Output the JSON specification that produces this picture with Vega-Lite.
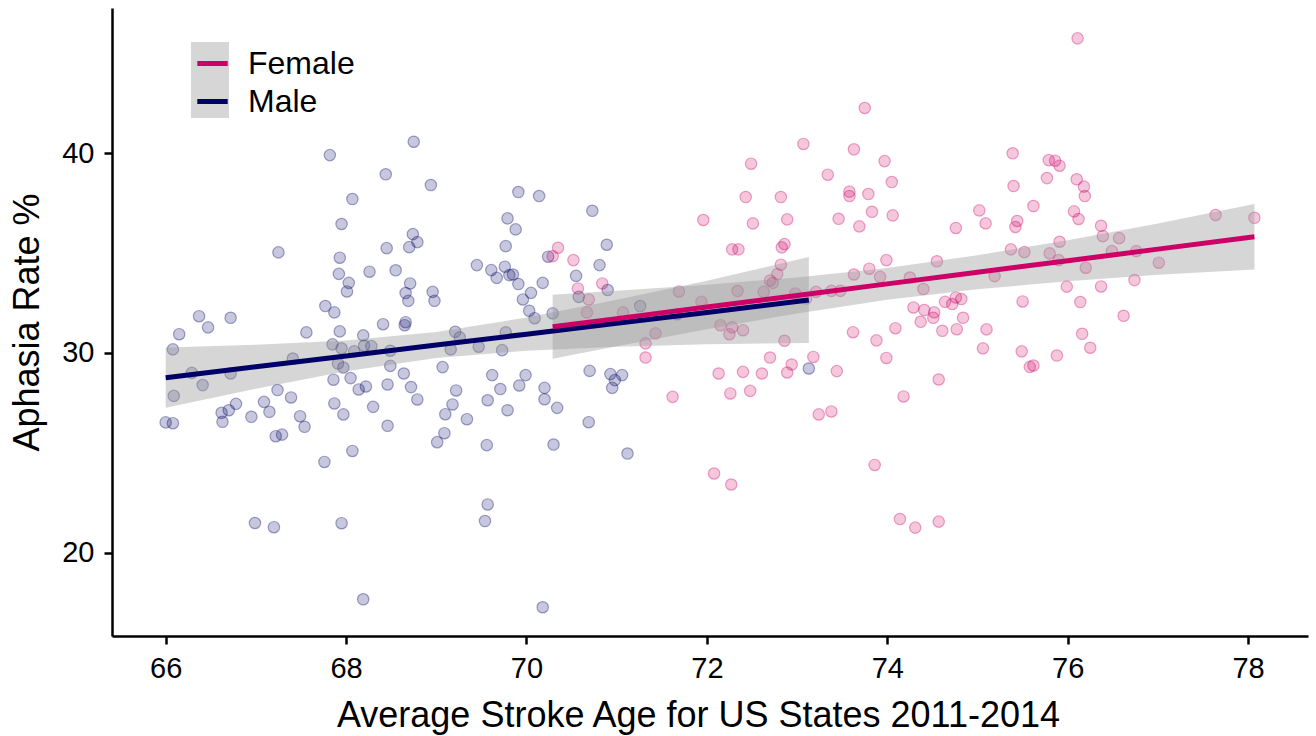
{
  "$schema": "https://vega.github.io/schema/vega-lite/v6.json",
  "autosize": {"type": "none"},
  "width": 1196,
  "height": 628,
  "padding": {"left": 112, "top": 8, "right": 8, "bottom": 100},
  "background": "white",
  "config": {
    "view": {"stroke": null},
    "font": "Liberation Sans",
    "axis": {
      "grid": false,
      "domainColor": "black",
      "domainWidth": 2.5,
      "tickColor": "black",
      "tickWidth": 2.5,
      "tickSize": 8,
      "labelColor": "black",
      "labelFontSize": 29,
      "labelFont": "Liberation Sans",
      "titleFont": "Liberation Sans",
      "titleFontSize": 36,
      "titleFontWeight": "normal",
      "titleColor": "black"
    }
  },
  "datasets": {
    "pts": [
      {"sex":"Male","age":68.75,"rate":40.58},{"sex":"Male","age":67.82,"rate":39.91},{"sex":"Male","age":68.44,"rate":38.95},{"sex":"Male","age":68.94,"rate":38.41},{"sex":"Male","age":68.07,"rate":37.71},{"sex":"Male","age":67.95,"rate":36.46},{"sex":"Male","age":67.25,"rate":35.04},{"sex":"Male","age":68.74,"rate":35.95},{"sex":"Male","age":68.79,"rate":35.55},{"sex":"Male","age":68.70,"rate":35.30},
      {"sex":"Male","age":68.45,"rate":35.25},{"sex":"Male","age":67.93,"rate":34.77},{"sex":"Male","age":67.92,"rate":33.96},{"sex":"Male","age":68.26,"rate":34.07},{"sex":"Male","age":68.55,"rate":34.14},{"sex":"Male","age":68.03,"rate":33.51},{"sex":"Male","age":68.01,"rate":33.08},{"sex":"Male","age":68.71,"rate":33.48},{"sex":"Male","age":68.66,"rate":33.00},{"sex":"Male","age":68.69,"rate":32.61},
      {"sex":"Male","age":68.96,"rate":33.06},{"sex":"Male","age":68.98,"rate":32.61},{"sex":"Male","age":67.77,"rate":32.35},{"sex":"Male","age":67.87,"rate":32.03},{"sex":"Male","age":66.37,"rate":31.84},{"sex":"Male","age":66.72,"rate":31.76},{"sex":"Male","age":66.15,"rate":30.94},{"sex":"Male","age":66.47,"rate":31.28},{"sex":"Male","age":67.56,"rate":31.03},{"sex":"Male","age":67.93,"rate":31.08},
      {"sex":"Male","age":68.41,"rate":31.44},{"sex":"Male","age":68.65,"rate":31.39},{"sex":"Male","age":68.66,"rate":31.54},{"sex":"Male","age":68.19,"rate":30.88},{"sex":"Male","age":67.85,"rate":30.43},{"sex":"Male","age":67.95,"rate":30.23},{"sex":"Male","age":68.09,"rate":30.08},{"sex":"Male","age":68.20,"rate":30.36},{"sex":"Male","age":68.28,"rate":30.34},{"sex":"Male","age":68.49,"rate":30.11},
      {"sex":"Male","age":69.21,"rate":31.06},{"sex":"Male","age":69.26,"rate":30.78},{"sex":"Male","age":69.16,"rate":30.18},{"sex":"Male","age":66.08,"rate":30.18},{"sex":"Male","age":67.41,"rate":29.72},{"sex":"Male","age":67.91,"rate":29.47},{"sex":"Male","age":67.97,"rate":29.27},{"sex":"Male","age":68.49,"rate":29.35},{"sex":"Male","age":69.07,"rate":29.29},{"sex":"Male","age":68.64,"rate":28.97},
      {"sex":"Male","age":66.29,"rate":29.00},{"sex":"Male","age":66.72,"rate":28.97},{"sex":"Male","age":67.86,"rate":28.66},{"sex":"Male","age":68.05,"rate":28.74},{"sex":"Male","age":66.41,"rate":28.39},{"sex":"Male","age":66.09,"rate":27.85},{"sex":"Male","age":66.00,"rate":26.52},{"sex":"Male","age":66.08,"rate":26.48},{"sex":"Male","age":66.62,"rate":27.00},{"sex":"Male","age":66.70,"rate":27.13},
      {"sex":"Male","age":66.78,"rate":27.45},{"sex":"Male","age":66.63,"rate":26.55},{"sex":"Male","age":66.95,"rate":26.80},{"sex":"Male","age":67.09,"rate":27.55},{"sex":"Male","age":67.15,"rate":27.05},{"sex":"Male","age":67.24,"rate":28.14},{"sex":"Male","age":67.39,"rate":27.77},{"sex":"Male","age":67.49,"rate":26.83},{"sex":"Male","age":67.54,"rate":26.30},{"sex":"Male","age":67.22,"rate":25.83},
      {"sex":"Male","age":67.29,"rate":25.91},{"sex":"Male","age":67.87,"rate":27.47},{"sex":"Male","age":67.97,"rate":26.92},{"sex":"Male","age":68.14,"rate":28.17},{"sex":"Male","age":68.22,"rate":28.32},{"sex":"Male","age":68.30,"rate":27.30},{"sex":"Male","age":68.46,"rate":28.42},{"sex":"Male","age":68.46,"rate":26.35},{"sex":"Male","age":68.72,"rate":28.29},{"sex":"Male","age":68.79,"rate":27.67},
      {"sex":"Male","age":69.22,"rate":28.12},{"sex":"Male","age":69.18,"rate":27.42},{"sex":"Male","age":69.10,"rate":26.93},{"sex":"Male","age":69.34,"rate":26.68},{"sex":"Male","age":69.09,"rate":25.98},{"sex":"Male","age":69.01,"rate":25.53},{"sex":"Male","age":68.07,"rate":25.09},{"sex":"Male","age":67.76,"rate":24.54},{"sex":"Male","age":66.99,"rate":21.48},{"sex":"Male","age":67.20,"rate":21.27},
      {"sex":"Male","age":67.95,"rate":21.47},{"sex":"Male","age":68.19,"rate":17.66},{"sex":"Male","age":69.91,"rate":38.06},{"sex":"Male","age":70.14,"rate":37.86},{"sex":"Male","age":70.73,"rate":37.12},{"sex":"Male","age":69.79,"rate":36.74},{"sex":"Male","age":69.88,"rate":36.19},{"sex":"Male","age":69.77,"rate":35.35},{"sex":"Male","age":70.89,"rate":35.42},{"sex":"Male","age":69.45,"rate":34.40},
      {"sex":"Male","age":69.61,"rate":34.15},{"sex":"Male","age":69.67,"rate":33.76},{"sex":"Male","age":69.76,"rate":34.32},{"sex":"Male","age":69.81,"rate":33.90},{"sex":"Male","age":69.85,"rate":33.93},{"sex":"Male","age":69.91,"rate":33.45},{"sex":"Male","age":70.18,"rate":33.51},{"sex":"Male","age":70.24,"rate":34.82},{"sex":"Male","age":70.81,"rate":34.40},{"sex":"Male","age":70.55,"rate":33.86},
      {"sex":"Male","age":70.90,"rate":33.15},{"sex":"Male","age":70.05,"rate":33.01},{"sex":"Male","age":69.96,"rate":32.68},{"sex":"Male","age":70.03,"rate":32.11},{"sex":"Male","age":70.09,"rate":31.74},{"sex":"Male","age":70.29,"rate":31.98},{"sex":"Male","age":70.58,"rate":32.81},{"sex":"Male","age":71.26,"rate":32.35},{"sex":"Male","age":71.67,"rate":31.94},{"sex":"Male","age":73.13,"rate":29.22},
      {"sex":"Male","age":69.77,"rate":31.03},{"sex":"Male","age":69.47,"rate":30.31},{"sex":"Male","age":69.73,"rate":30.14},{"sex":"Male","age":69.62,"rate":28.89},{"sex":"Male","age":69.99,"rate":28.89},{"sex":"Male","age":70.70,"rate":29.10},{"sex":"Male","age":70.93,"rate":28.94},{"sex":"Male","age":71.06,"rate":28.89},{"sex":"Male","age":70.98,"rate":28.64},{"sex":"Male","age":69.92,"rate":28.37},
      {"sex":"Male","age":69.71,"rate":28.19},{"sex":"Male","age":69.57,"rate":27.63},{"sex":"Male","age":69.79,"rate":27.13},{"sex":"Male","age":70.20,"rate":28.25},{"sex":"Male","age":70.20,"rate":27.68},{"sex":"Male","age":70.34,"rate":27.25},{"sex":"Male","age":70.95,"rate":28.25},{"sex":"Male","age":70.69,"rate":26.53},{"sex":"Male","age":69.56,"rate":25.38},{"sex":"Male","age":70.30,"rate":25.41},
      {"sex":"Male","age":71.12,"rate":24.96},{"sex":"Male","age":69.57,"rate":22.41},{"sex":"Male","age":69.54,"rate":21.58},{"sex":"Male","age":70.18,"rate":17.26},
      {"sex":"Female","age":73.07,"rate":40.47},{"sex":"Female","age":72.49,"rate":39.48},{"sex":"Female","age":72.43,"rate":37.81},{"sex":"Female","age":72.82,"rate":37.81},{"sex":"Female","age":71.96,"rate":36.66},{"sex":"Female","age":72.51,"rate":36.49},{"sex":"Female","age":72.89,"rate":36.69},{"sex":"Female","age":70.35,"rate":35.27},{"sex":"Female","age":70.29,"rate":34.85},{"sex":"Female","age":70.52,"rate":34.65},
      {"sex":"Female","age":72.28,"rate":35.19},{"sex":"Female","age":72.35,"rate":35.19},{"sex":"Female","age":72.83,"rate":35.29},{"sex":"Female","age":72.86,"rate":35.45},{"sex":"Female","age":72.82,"rate":34.42},{"sex":"Female","age":72.78,"rate":33.95},{"sex":"Female","age":72.70,"rate":33.63},{"sex":"Female","age":72.73,"rate":33.51},{"sex":"Female","age":70.57,"rate":33.23},{"sex":"Female","age":70.69,"rate":32.68},
      {"sex":"Female","age":70.84,"rate":33.48},{"sex":"Female","age":70.67,"rate":32.03},{"sex":"Female","age":71.07,"rate":32.03},{"sex":"Female","age":71.69,"rate":33.08},{"sex":"Female","age":71.94,"rate":32.56},{"sex":"Female","age":72.34,"rate":33.10},{"sex":"Female","age":72.63,"rate":33.06},{"sex":"Female","age":72.98,"rate":32.98},{"sex":"Female","age":73.21,"rate":33.06},{"sex":"Female","age":71.43,"rate":30.98},
      {"sex":"Female","age":71.32,"rate":30.48},{"sex":"Female","age":71.32,"rate":29.77},{"sex":"Female","age":72.15,"rate":31.39},{"sex":"Female","age":72.25,"rate":30.94},{"sex":"Female","age":72.28,"rate":31.28},{"sex":"Female","age":72.40,"rate":31.14},{"sex":"Female","age":72.86,"rate":30.61},{"sex":"Female","age":72.70,"rate":29.77},{"sex":"Female","age":72.94,"rate":29.42},{"sex":"Female","age":72.89,"rate":29.02},
      {"sex":"Female","age":73.18,"rate":29.80},{"sex":"Female","age":72.13,"rate":28.97},{"sex":"Female","age":72.40,"rate":29.05},{"sex":"Female","age":72.61,"rate":28.97},{"sex":"Female","age":71.62,"rate":27.80},{"sex":"Female","age":72.26,"rate":27.97},{"sex":"Female","age":72.48,"rate":28.10},{"sex":"Female","age":73.24,"rate":26.92},{"sex":"Female","age":72.08,"rate":23.96},{"sex":"Female","age":72.27,"rate":23.41},
      {"sex":"Female","age":76.11,"rate":45.76},{"sex":"Female","age":73.75,"rate":42.27},{"sex":"Female","age":73.63,"rate":40.20},{"sex":"Female","age":73.97,"rate":39.61},{"sex":"Female","age":73.34,"rate":38.93},{"sex":"Female","age":74.05,"rate":38.56},{"sex":"Female","age":73.58,"rate":38.08},{"sex":"Female","age":73.58,"rate":37.86},{"sex":"Female","age":73.79,"rate":37.96},{"sex":"Female","age":73.83,"rate":37.07},
      {"sex":"Female","age":74.06,"rate":36.89},{"sex":"Female","age":73.46,"rate":36.72},{"sex":"Female","age":73.69,"rate":36.34},{"sex":"Female","age":75.39,"rate":40.00},{"sex":"Female","age":75.79,"rate":39.66},{"sex":"Female","age":75.86,"rate":39.63},{"sex":"Female","age":75.91,"rate":39.38},{"sex":"Female","age":75.40,"rate":38.36},{"sex":"Female","age":75.77,"rate":38.76},{"sex":"Female","age":76.10,"rate":38.70},
      {"sex":"Female","age":76.18,"rate":38.33},{"sex":"Female","age":76.19,"rate":37.86},{"sex":"Female","age":75.62,"rate":37.36},{"sex":"Female","age":75.02,"rate":37.14},{"sex":"Female","age":75.09,"rate":36.49},{"sex":"Female","age":75.44,"rate":36.61},{"sex":"Female","age":75.42,"rate":36.31},{"sex":"Female","age":76.07,"rate":37.09},{"sex":"Female","age":76.12,"rate":36.71},{"sex":"Female","age":74.76,"rate":36.26},
      {"sex":"Female","age":76.37,"rate":36.37},{"sex":"Female","age":76.39,"rate":35.85},{"sex":"Female","age":76.57,"rate":35.75},{"sex":"Female","age":76.49,"rate":35.10},{"sex":"Female","age":75.91,"rate":35.57},{"sex":"Female","age":75.37,"rate":35.19},{"sex":"Female","age":75.52,"rate":35.05},{"sex":"Female","age":75.80,"rate":34.99},{"sex":"Female","age":75.90,"rate":34.65},{"sex":"Female","age":76.20,"rate":34.27},
      {"sex":"Female","age":73.99,"rate":34.65},{"sex":"Female","age":74.55,"rate":34.59},{"sex":"Female","age":73.80,"rate":34.22},{"sex":"Female","age":73.63,"rate":33.93},{"sex":"Female","age":73.92,"rate":33.81},{"sex":"Female","age":74.25,"rate":33.78},{"sex":"Female","age":75.19,"rate":33.85},{"sex":"Female","age":74.40,"rate":33.20},{"sex":"Female","age":75.99,"rate":33.32},{"sex":"Female","age":76.37,"rate":33.33},
      {"sex":"Female","age":73.38,"rate":33.11},{"sex":"Female","age":73.48,"rate":33.11},{"sex":"Female","age":73.10,"rate":32.73},{"sex":"Female","age":75.50,"rate":32.58},{"sex":"Female","age":76.14,"rate":32.55},{"sex":"Female","age":76.62,"rate":31.86},{"sex":"Female","age":74.29,"rate":32.28},{"sex":"Female","age":74.41,"rate":32.15},{"sex":"Female","age":74.52,"rate":32.03},{"sex":"Female","age":74.51,"rate":31.76},
      {"sex":"Female","age":74.37,"rate":31.56},{"sex":"Female","age":74.64,"rate":32.56},{"sex":"Female","age":74.72,"rate":32.45},{"sex":"Female","age":74.76,"rate":32.78},{"sex":"Female","age":74.82,"rate":32.70},{"sex":"Female","age":74.84,"rate":31.76},{"sex":"Female","age":74.61,"rate":31.11},{"sex":"Female","age":74.77,"rate":31.19},{"sex":"Female","age":75.10,"rate":31.18},{"sex":"Female","age":75.06,"rate":30.23},
      {"sex":"Female","age":75.49,"rate":30.08},{"sex":"Female","age":75.58,"rate":29.30},{"sex":"Female","age":75.62,"rate":29.37},{"sex":"Female","age":75.88,"rate":29.87},{"sex":"Female","age":76.16,"rate":30.96},{"sex":"Female","age":76.25,"rate":30.26},{"sex":"Female","age":73.62,"rate":31.04},{"sex":"Female","age":73.88,"rate":30.63},{"sex":"Female","age":74.09,"rate":31.24},{"sex":"Female","age":73.99,"rate":29.75},
      {"sex":"Female","age":73.44,"rate":29.09},{"sex":"Female","age":74.57,"rate":28.67},{"sex":"Female","age":74.18,"rate":27.82},{"sex":"Female","age":73.38,"rate":27.07},{"sex":"Female","age":73.86,"rate":24.39},{"sex":"Female","age":74.14,"rate":21.68},{"sex":"Female","age":74.31,"rate":21.25},{"sex":"Female","age":74.57,"rate":21.55},{"sex":"Female","age":77.64,"rate":36.91},{"sex":"Female","age":78.07,"rate":36.77},
      {"sex":"Female","age":76.76,"rate":35.10},{"sex":"Female","age":77.01,"rate":34.52},{"sex":"Female","age":76.74,"rate":33.65}
    ],
    "fit": [
      {"sex":"Male","band":"M","age":66.0,"fit":28.76,"lo":27.25,"hi":30.27},
      {"sex":"Male","band":"M","age":67.0,"fit":29.31,"lo":28.21,"hi":30.41},
      {"sex":"Male","band":"M","age":68.0,"fit":29.85,"lo":29.08,"hi":30.62},
      {"sex":"Male","band":"M","age":69.0,"fit":30.40,"lo":29.75,"hi":31.05},
      {"sex":"Male","band":"M","age":70.0,"fit":30.94,"lo":30.11,"hi":31.77},
      {"sex":"Male","band":"M","age":71.0,"fit":31.49,"lo":30.31,"hi":32.67},
      {"sex":"Male","band":"M","age":72.0,"fit":32.03,"lo":30.44,"hi":33.62},
      {"sex":"Male","band":"M","age":73.13,"fit":32.65,"lo":30.50,"hi":34.80},
      {"sex":"Female","band":"F","age":70.29,"fit":31.31,"lo":29.71,"hi":32.91},
      {"sex":"Female","band":"F","age":71.0,"fit":31.72,"lo":30.33,"hi":33.11},
      {"sex":"Female","band":"F","age":72.0,"fit":32.30,"lo":31.19,"hi":33.42},
      {"sex":"Female","band":"F","age":73.0,"fit":32.88,"lo":31.98,"hi":33.78},
      {"sex":"Female","band":"F","age":74.0,"fit":33.46,"lo":32.66,"hi":34.26},
      {"sex":"Female","band":"F","age":75.0,"fit":34.04,"lo":33.19,"hi":34.89},
      {"sex":"Female","band":"F","age":76.0,"fit":34.62,"lo":33.59,"hi":35.65},
      {"sex":"Female","band":"F","age":77.0,"fit":35.20,"lo":33.92,"hi":36.49},
      {"sex":"Female","band":"F","age":78.07,"fit":35.82,"lo":34.18,"hi":37.46}
    ]
  },
  "encoding": {
    "x": {
      "field": "age", "type": "quantitative",
      "scale": {"domain": [65.405, 78.664], "nice": false, "zero": false},
      "axis": {"values": [66, 68, 70, 72, 74, 76, 78], "title": "Average Stroke Age for US States 2011-2014", "labelPadding": 10, "titlePadding": 15, "titleX": 586}
    }
  },
  "layer": [
    {
      "data": {"name": "pts"},
      "mark": {"type": "point", "shape": "circle", "filled": true, "size": 130, "fillOpacity": 0.22, "strokeOpacity": 0.35, "strokeWidth": 1.2},
      "encoding": {
        "y": {
          "field": "rate", "type": "quantitative",
          "scale": {"domain": [15.82, 47.28], "nice": false, "zero": false},
          "axis": {"values": [20, 30, 40], "title": "Aphasia Rate %", "labelPadding": 10, "titlePadding": 15}
        },
        "fill": {"field": "sex", "type": "nominal", "scale": {"domain": ["Male", "Female"], "range": ["#000066", "#CC0066"]}, "legend": null},
        "stroke": {"field": "sex", "type": "nominal", "scale": {"domain": ["Female", "Male"], "range": ["#CC0066", "#000066"]}}
      }
    },
    {
      "data": {"name": "fit"},
      "mark": {"type": "area", "opacity": 0.4},
      "encoding": {
        "y": {"field": "lo", "type": "quantitative"},
        "y2": {"field": "hi"},
        "color": {
          "field": "band", "type": "nominal",
          "scale": {"domain": ["F", "M"], "range": ["#999999", "#999999"]},
          "legend": {"orient": "none", "legendX": 79, "legendY": 34, "title": null, "symbolType": "square", "symbolSize": 1444, "symbolOpacity": 0.4, "symbolStrokeWidth": 0, "rowPadding": 0, "labelExpr": "''", "labelFontSize": 32, "padding": 0, "zindex": 0}
        }
      }
    },
    {
      "data": {"name": "fit"},
      "mark": {"type": "line", "strokeWidth": 5},
      "encoding": {
        "y": {"field": "fit", "type": "quantitative"},
        "stroke": {
          "field": "sex", "type": "nominal",
          "legend": {"orient": "none", "legendX": 79, "legendY": 34, "title": null, "symbolType": "M-0.8,0H0.8", "symbolSize": 1444, "symbolStrokeWidth": 5, "symbolOpacity": 1, "symbolFillColor": "transparent", "rowPadding": 0, "labelFontSize": 32, "labelFont": "Liberation Sans", "labelColor": "black", "labelOffset": 14, "padding": 0, "zindex": 1}
        }
      }
    }
  ]
}
